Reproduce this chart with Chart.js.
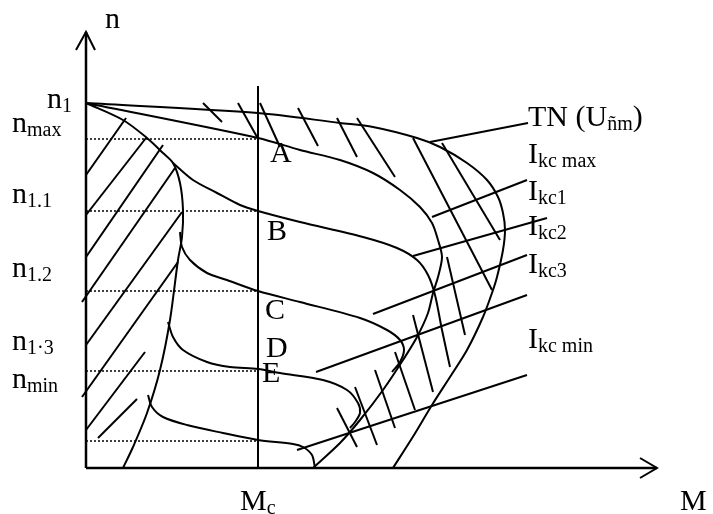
<!DOCTYPE html>
<html>
<head>
<meta charset="utf-8">
<script src="https://cdn.jsdelivr.net/npm/chart.js@4/dist/chart.umd.min.js"></script>
<style>
  html, body { margin: 0; padding: 0; background: #fff; }
  canvas { display: block; }
</style>
</head>
<body>
<canvas id="c" width="713" height="514"></canvas>
<script>
  // Curvas: pares [M, n] (origen en el cruce de los ejes)
  const curveTN   = [[0,365],[172,355],[254,345],[287,341],[331,330],[354,321],[381,305],[401,288],[412,271],[417,255],[419,238],[417,218],[411,191],[406,175],[397,151],[381,118],[364,91],[346,63],[328,33],[307,0]];
  const curveA    = [[0,365],[172,330],[214,318],[254,308],[287,295],[314,278],[334,261],[346,245],[352,228],[356,211],[352,191],[347,175],[342,155],[331,131],[317,108],[297,78],[274,48],[254,25],[227,0]];
  const curveLeft = [[0,365],[37,348],[61,330],[77,315],[87,305],[94,285],[97,258],[96,231],[92,208],[84,148],[74,98],[61,55],[47,21],[37,0]];
  const curveB    = [[87,305],[107,288],[131,275],[154,263],[172,257],[214,246],[277,231],[311,220],[331,208],[342,193],[349,173],[356,138],[364,101]];
  const curveC    = [[94,236],[96,221],[104,208],[121,195],[141,188],[172,177],[214,166],[274,150],[301,138],[314,128],[318,118],[314,106],[306,96]];
  const curveE    = [[82,146],[87,131],[97,118],[121,106],[144,101],[172,99],[194,95],[237,88],[261,78],[272,65],[274,55],[269,46],[264,40]];
  const curveLow  = [[62,73],[66,61],[77,51],[101,43],[137,35],[172,28],[207,24],[217,21],[226,13],[229,0]];

  // lineas rectas hacia las etiquetas
  const leaders = [
    [[344,326],[442,345]],
    [[346,251],[441,288]],
    [[327,212],[461,250]],
    [[287,154],[441,213]],
    [[230,96],[441,173]],
    [[211,18],[441,93]]
  ];

  // rayado
  const hatches = [
    [[0,293],[40,350]], [[0,253],[60,330]], [[0,211],[77,323]], [[-4,166],[89,300]],
    [[0,123],[96,256]], [[-4,71],[92,206]], [[0,38],[59,116]], [[12,30],[51,69]],
    [[117,365],[136,346]], [[152,365],[171,331]], [[174,365],[194,321]], [[212,360],[232,322]],
    [[251,350],[271,311]], [[271,350],[309,291]], [[327,330],[406,178]], [[356,325],[414,228]],
    [[361,211],[379,133]], [[251,60],[271,21]], [[269,81],[291,23]], [[289,98],[309,40]],
    [[309,116],[329,58]], [[327,153],[347,76]]
  ];

  // velocidades marcadas y momento Mc
  const speedLevels = [329, 257, 177, 97, 27];
  const mc = 172;
  const mcTop = 382;

  // ejes
  const axisN = [[0,0],[0,436]];
  const arrowN = [[-10,418],[0,436],[9,418]];
  const axisM = [[0,0],[571,0]];
  const arrowM = [[554,10],[571,0],[554,-10]];

  // etiquetas: [texto, subindice, resto, M, n]
  const labels = [
    ['n', '', '', 19, 440],
    ['n', '1', '', -39, 360],
    ['n', 'max', '', -74, 336],
    ['n', '1.1', '', -74, 265],
    ['n', '1.2', '', -74, 191],
    ['n', '1·3', '', -74, 118],
    ['n', 'min', '', -74, 80],
    ['A', '', '', 184, 306],
    ['B', '', '', 181, 228],
    ['C', '', '', 179, 149],
    ['D', '', '', 180, 111],
    ['E', '', '', 176, 86],
    ['M', 'c', '', 154, -42],
    ['M', '', '', 594, -42],
    ['TN (U', 'ñm', ')', 442, 342],
    ['I', 'kc max', '', 442, 305],
    ['I', 'kc1', '', 442, 268],
    ['I', 'kc2', '', 442, 233],
    ['I', 'kc3', '', 442, 195],
    ['I', 'kc min', '', 442, 120]
  ];

  const toPts = arr => arr.map(p => ({ x: p[0], y: p[1] }));

  function line(arr, opts) {
    return Object.assign({
      data: toPts(arr),
      showLine: true,
      borderColor: '#000',
      borderWidth: 2,
      pointRadius: 0,
      tension: 0,
      fill: false
    }, opts || {});
  }

  const datasets = [];
  datasets.push(line(axisN, { borderWidth: 2.5 }));
  datasets.push(line(arrowN));
  datasets.push(line(axisM, { borderWidth: 2.5 }));
  datasets.push(line(arrowM));
  speedLevels.forEach(n => datasets.push(line([[0, n], [mc, n]], { borderWidth: 1.5, borderDash: [2, 2] })));
  datasets.push(line([[mc, 0], [mc, mcTop]]));
  [curveTN, curveA, curveLeft, curveB, curveC, curveE, curveLow].forEach(c => datasets.push(line(c, { tension: 0.3 })));
  leaders.forEach(l => datasets.push(line(l)));
  hatches.forEach(h => datasets.push(line(h)));

  // textos con subindice
  const textPlugin = {
    id: 'textos',
    afterDraw(chart) {
      const ctx = chart.ctx;
      const sx = chart.scales.x, sy = chart.scales.y;
      ctx.save();
      ctx.fillStyle = '#000';
      ctx.textBaseline = 'alphabetic';
      labels.forEach(l => {
        let x = sx.getPixelForValue(l[3]);
        const y = sy.getPixelForValue(l[4]);
        ctx.font = '30px "Liberation Serif", serif';
        ctx.fillText(l[0], x, y);
        x += ctx.measureText(l[0]).width;
        if (l[1]) {
          ctx.font = '20px "Liberation Serif", serif';
          ctx.fillText(l[1], x, y + 4);
          x += ctx.measureText(l[1]).width;
        }
        if (l[2]) {
          ctx.font = '30px "Liberation Serif", serif';
          ctx.fillText(l[2], x, y);
        }
      });
      ctx.restore();
    }
  };

  new Chart(document.getElementById('c').getContext('2d'), {
    type: 'scatter',
    data: { datasets: datasets },
    options: {
      responsive: false,
      animation: false,
      layout: { padding: 0 },
      plugins: { legend: { display: false }, tooltip: { enabled: false } },
      scales: {
        x: { type: 'linear', min: -86, max: 627, display: false },
        y: { type: 'linear', min: -46, max: 468, display: false }
      }
    },
    plugins: [textPlugin]
  });
</script>
</body>
</html>
